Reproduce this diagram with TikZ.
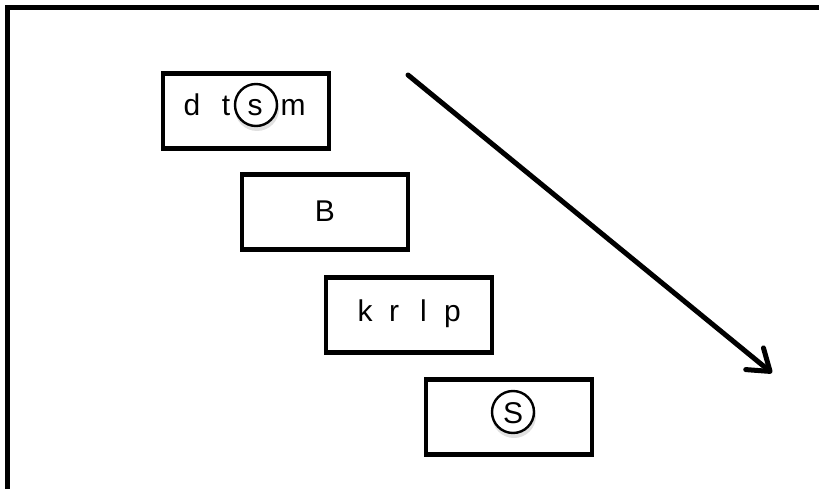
\documentclass[tikz,border=0pt]{standalone}
\usepackage{fontspec}
\setmainfont{Liberation Sans}
\usetikzlibrary{arrows.meta}
\begin{document}
\begin{tikzpicture}[x=1pt,y=-1pt,
  framebox/.style={draw,line width=4.5pt,minimum width=166pt,minimum height=75pt,inner sep=0pt},
  letter/.style={font=\fontsize{30}{36}\selectfont,inner sep=0pt,anchor=base},
  ring/.style={draw,fill=white,line width=2.4pt,circle,minimum size=42pt,inner sep=0pt},
  ringshadow/.style={fill=black,opacity=0.12,circle,minimum size=44pt,inner sep=0pt}]
\useasboundingbox (0,0) rectangle (819,489);
% outer frame: top and left edges only
\draw[line width=5pt] (819,7.5) -- (7,7.5) -- (7,489);
% boxes
\node[framebox] (b1) at (246,111) {};
\node[framebox] (b2) at (325,212) {};
\node[framebox] (b3) at (409,315) {};
\node[framebox] (b4) at (509,417) {};
% ring behind the s of the first box
\node[ringshadow] (s-sh) at (257,109) {};
\node[ring] (s-ring) at (256,105) {};
% first box letters
\node[letter] (d) at (192,116) {d};
\node[letter] (t) at (226,116) {t};
\node[letter] (s) at (255,116) {s};
\node[letter] (m) at (293,116) {m};
% second box
\node[letter] (B) at (325,222) {B};
% third box
\node[letter] (k) at (365,321) {k};
\node[letter] (r) at (394,321) {r};
\node[letter] (l) at (423.5,321) {l};
\node[letter] (p) at (452.5,321) {p};
% fourth box
\node[ringshadow] (S-sh) at (514,416) {};
\node[ring] (S-ring) at (513,412) {};
\node[letter] (S) at (513,423) {S};
% arrow
\coordinate (a0) at (408,75);
\coordinate (a1) at (772,373);
\draw[line width=5pt,line cap=round,-{Straight Barb[length=20pt,width=28pt,round]}] (a0) -- (a1);
\end{tikzpicture}
\end{document}
